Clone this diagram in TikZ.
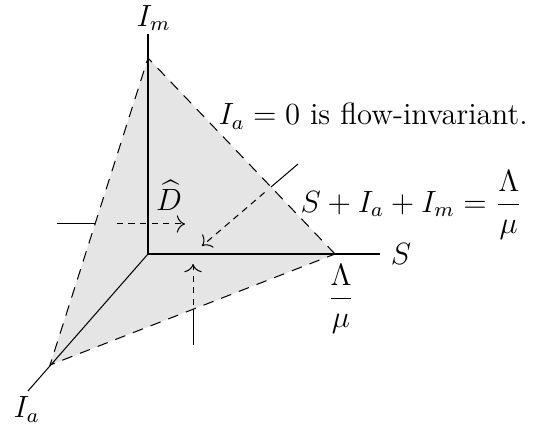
\documentclass[tikz,border=0pt,12pt]{standalone}
\usepackage{amsmath,amsfonts}
\usetikzlibrary{arrows.meta}

\begin{document}
\begin{tikzpicture}[>={To[scale=1.3]}]
	\useasboundingbox (-2.032,-2.375) rectangle (5.368,3.487);
	% vertices of the simplex and ends of the axes
	\coordinate (O) at (0,0);
	\coordinate (Sv) at (2.567,0);
	\coordinate (Imv) at (0,2.69);
	\coordinate (Iav) at (-1.345,-1.524);
	\coordinate (Send) at (3.185,0);
	\coordinate (Imend) at (0,3.02);
	\coordinate (Iaend) at (-1.648,-1.881);
	\fill[gray!20] (Sv) -- (Imv) -- (Iav) -- cycle;
	\draw[dash pattern=on 4.2pt off 3.2pt] (Sv) -- (Imv) -- (Iav) -- cycle;
	\draw (O) -- (Send);
	\draw (O) -- (Imend);
	\draw (O) -- (Iaend);
	\node[right] (S) at (Send) {$S$};
	\node[above, inner sep=1pt, xshift=2.2pt] (Im) at (Imend) {$I_m$};
	\node[below, inner sep=2pt, xshift=-0.5pt] (Ia) at (Iaend) {$I_a$};
	\node[inner sep=0pt] (frac) at (2.65,-0.62) {$\dfrac{\Lambda}{\mu}$};
	\node[inner sep=1pt] (Dhat) at (0.288,0.80) {$\widehat{D}$};
	\node[anchor=base west, inner sep=0pt] (inv) at (0.961,1.771) {$I_a=0$ is flow-invariant.};
	\node[anchor=west, inner sep=0pt] (sum) at (2.087,0.673) {$S+I_a+I_m=\dfrac{\Lambda}{\mu}$};
	% trajectories entering the simplex
	\coordinate (a1) at (-1.249,0.412);
	\coordinate (b1) at (-0.727,0.412);
	\coordinate (c1) at (-0.426,0.412);
	\coordinate (d1) at (0.508,0.412);
	\coordinate (a2) at (2.06,1.236);
	\coordinate (b2) at (1.689,0.92);
	\coordinate (c2) at (1.6,0.844);
	\coordinate (d2) at (0.741,0.110);
	\coordinate (a3) at (0.618,-1.249);
	\coordinate (b3) at (0.618,-0.759);
	\coordinate (c3) at (0.618,-0.70);
	\coordinate (d3) at (0.618,-0.137);
	\foreach \i in {1,2,3}
	{
		\draw (a\i) -- (b\i);
		\draw[dash pattern=on 2.5pt off 2pt, ->] (c\i) -- (d\i);
	}
\end{tikzpicture}
\end{document}
